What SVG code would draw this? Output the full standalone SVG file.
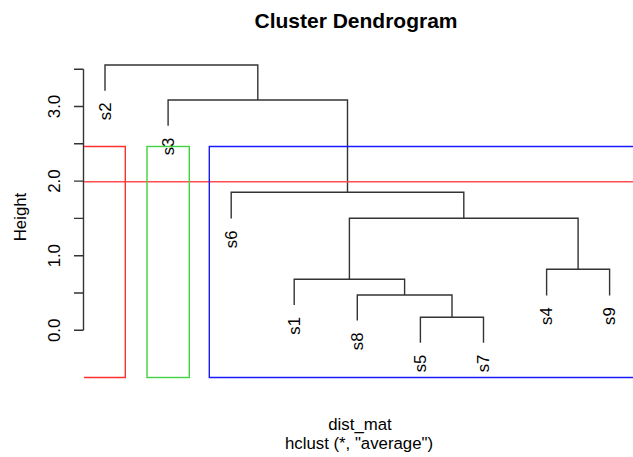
<svg xmlns="http://www.w3.org/2000/svg" width="633" height="457" viewBox="0 0 633 457">
  <style>
    text { font-family: "Liberation Sans", Arial, sans-serif; fill: #000; }
    .title { font-size: 21px; font-weight: bold; text-anchor: middle; }
    .lab { font-size: 16.8px; text-anchor: middle; }
    .leaf { font-size: 16.8px; text-anchor: end; }
    .tree path { fill: none; stroke: #333; stroke-width: 1.4; }
    .axis path { fill: none; stroke: #333; stroke-width: 1.4; }
    .cut { fill: none; stroke-width: 1.4; }
  </style>

  <!-- title and axis titles -->
  <text class="title" x="356" y="28">Cluster Dendrogram</text>
  <text class="lab" x="360" y="430">dist_mat</text>
  <text class="lab" x="359" y="449">hclust (*, "average")</text>
  <text class="lab" transform="translate(26,217) rotate(-90)">Height</text>

  <!-- y axis -->
  <g class="axis">
    <path d="M83.5 69.2 V330.3 M74 330.3 H83.5 M74 293 H83.5 M74 255.7 H83.5 M74 218.4 H83.5 M74 181.1 H83.5 M74 143.8 H83.5 M74 106.5 H83.5 M74 69.2 H83.5"/>
    <text class="lab" transform="translate(60,330.3) rotate(-90)">0.0</text>
    <text class="lab" transform="translate(60,255.7) rotate(-90)">1.0</text>
    <text class="lab" transform="translate(60,181.1) rotate(-90)">2.0</text>
    <text class="lab" transform="translate(60,106.5) rotate(-90)">3.0</text>
  </g>

  <!-- dendrogram branches -->
  <g id="connectors" class="tree">
    <path d="M105 90.7 V65 H257.8 V100"/>
    <path d="M168.1 125.8 V100 H347.5 V192.3"/>
    <path d="M231.2 218.6 V192.3 H463.8 V218.3"/>
    <path d="M349.4 279.3 V218.3 H578.1 V269.3"/>
    <path d="M294.2 305.1 V279.3 H404.6 V295"/>
    <path d="M357.3 320.6 V295 H452 V317.3"/>
    <path d="M420.4 342.8 V317.3 H483.5 V342.8"/>
    <path d="M546.6 295.4 V269.3 H609.6 V295.4"/>
  </g>

  <!-- leaves -->
  <g id="s2"><text class="leaf" transform="translate(110.8,102.5) rotate(-90)">s2</text></g>
  <g id="s3"><text class="leaf" transform="translate(173.9,137.6) rotate(-90)">s3</text></g>
  <g id="s6"><text class="leaf" transform="translate(237,230.4) rotate(-90)">s6</text></g>
  <g id="s1"><text class="leaf" transform="translate(300,317) rotate(-90)">s1</text></g>
  <g id="s8"><text class="leaf" transform="translate(363.1,332.4) rotate(-90)">s8</text></g>
  <g id="s5"><text class="leaf" transform="translate(426.2,354.6) rotate(-90)">s5</text></g>
  <g id="s7"><text class="leaf" transform="translate(489.3,354.6) rotate(-90)">s7</text></g>
  <g id="s4"><text class="leaf" transform="translate(552.4,307.2) rotate(-90)">s4</text></g>
  <g id="s9"><text class="leaf" transform="translate(615.4,307.2) rotate(-90)">s9</text></g>

  <!-- cut line at height 2 and cluster boxes -->
  <path class="cut" stroke="#ff4d4d" d="M84 181.7 H633"/>
  <path class="cut" stroke="#ff3030" d="M84 146.5 H125.3 V377.5 H84"/>
  <rect class="cut" stroke="#3fd43f" x="147" y="146.5" width="42.3" height="231"/>
  <path class="cut" stroke="#1a1aff" d="M640 146.5 H209.3 V377.5 H640"/>
</svg>
